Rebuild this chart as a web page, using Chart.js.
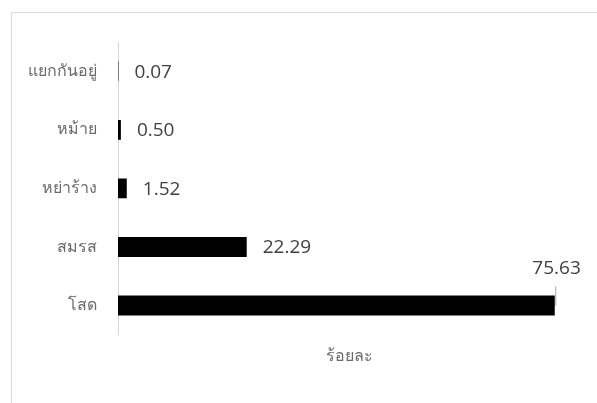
<!DOCTYPE html>
<html>
<head>
<meta charset="utf-8">
<script src="https://cdn.jsdelivr.net/npm/chart.js@4"></script>
<style>
  body { margin: 0; background: #fff; }
  #wrap { position: relative; width: 597px; height: 403px; overflow: hidden; }
  #frame { position: absolute; left: 11px; top: 12px; width: 700px; height: 500px; border: 1px solid #d9d9d9; box-sizing: border-box; }
  canvas { position: absolute; left: 0; top: 0; }
</style>
</head>
<body>
<div id="wrap">
  <div id="frame"></div>
  <canvas id="grafico" width="597" height="403"></canvas>
</div>
<script>
const categorias = ['แยกกันอยู่', 'หม้าย', 'หย่าร้าง', 'สมรส', 'โสด'];
const valores = [0.07, 0.50, 1.52, 22.29, 75.63];
const tituloEje = 'ร้อยละ';

const etiquetas = {
  id: 'etiquetas',
  afterDatasetsDraw(chart) {
    const ctx = chart.ctx;
    const barras = chart.getDatasetMeta(0).data;
    ctx.save();
    ctx.font = '19px "Open Sans", sans-serif';
    ctx.fillStyle = '#404040';
    ctx.textBaseline = 'middle';
    barras.forEach(function (b, i) {
      const txt = valores[i].toFixed(2);
      if (i === barras.length - 1) {
        // etiqueta arriba con linea guia
        ctx.textAlign = 'right';
        ctx.fillText(txt, b.x + 26, b.y - 37);
        ctx.strokeStyle = '#a6a6a6';
        ctx.lineWidth = 1;
        ctx.beginPath();
        ctx.moveTo(b.x + 1, b.y - 19);
        ctx.lineTo(b.x + 1, b.y);
        ctx.stroke();
      } else {
        ctx.textAlign = 'left';
        ctx.fillText(txt, b.x + 16, b.y + 1);
      }
    });
    ctx.restore();
  }
};

function init() {
  const grafico = document.getElementById('grafico');
  new Chart(grafico, {
    type: 'bar',
    data: {
      labels: categorias,
      datasets: [{
        label: tituloEje,
        data: valores,
        backgroundColor: '#000000',
        borderWidth: 0,
        barPercentage: 0.34,
        categoryPercentage: 1
      }]
    },
    options: {
      indexAxis: 'y',
      responsive: false,
      animation: false,
      layout: { padding: { top: 42, right: 17, bottom: 33, left: 0 } },
      plugins: { legend: { display: false }, tooltip: { enabled: false } },
      scales: {
        x: {
          min: 0,
          max: 80,
          grid: { display: false, drawTicks: false },
          border: { display: false },
          ticks: { display: false },
          title: {
            display: true,
            text: tituloEje,
            color: '#6b6b6b',
            font: { size: 16, family: 'Tahoma, "Noto Sans", sans-serif' },
            padding: { top: 12, bottom: 4 }
          }
        },
        y: {
          grid: { display: false, drawTicks: false },
          border: { display: true, color: '#d9d9d9', width: 1 },
          ticks: {
            color: '#6b6b6b',
            padding: 21,
            font: { size: 16, family: 'Tahoma, "Noto Sans", sans-serif' }
          },
          afterFit(scale) { scale.width = 118; }
        }
      }
    },
    plugins: [etiquetas]
  });
}

init();
</script>
</body>
</html>
